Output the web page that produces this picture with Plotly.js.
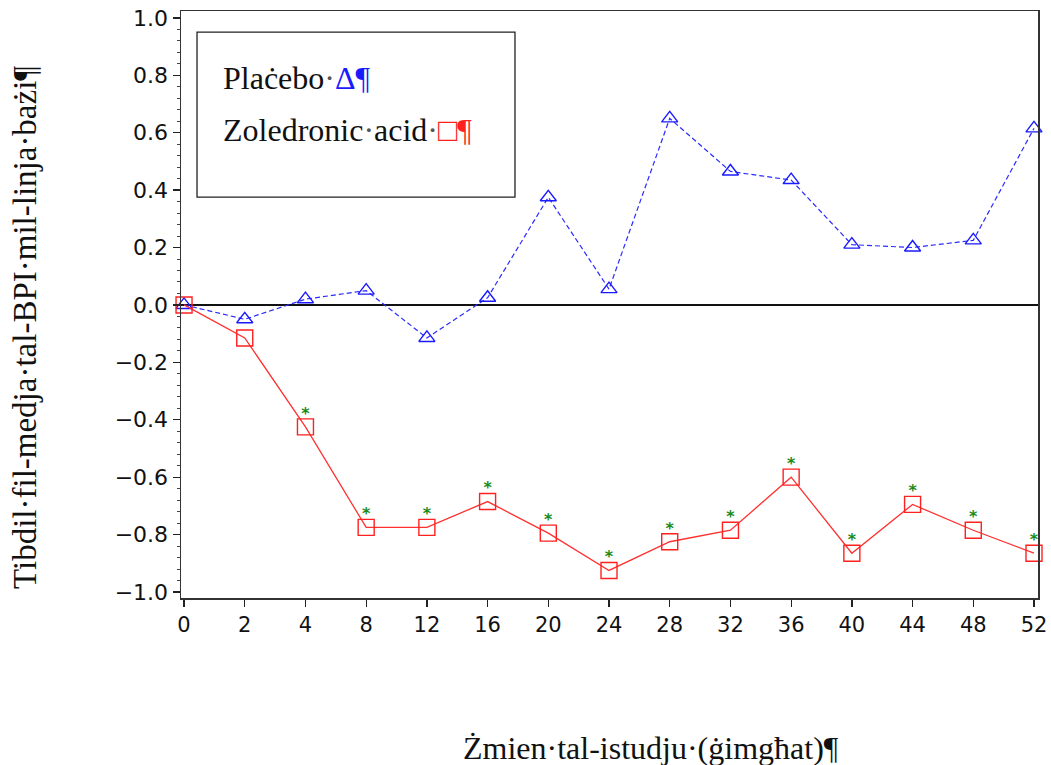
<!DOCTYPE html>
<html>
<head>
<meta charset="utf-8">
<script src="https://cdn.plot.ly/plotly-3.0.1.min.js"></script>
<style>html,body{margin:0;padding:0;background:#fff;}#chart{width:1051px;height:765px;}</style>
</head>
<body>
<div id="chart"></div>
<script>
var weeks = ['0','2','4','8','12','16','20','24','28','32','36','40','44','48','52'];
var placebo = [0, -0.05, 0.02, 0.05, -0.115, 0.025, 0.375, 0.055, 0.65, 0.465, 0.435, 0.21, 0.2, 0.225, 0.615];
var zoledronic = [0, -0.115, -0.425, -0.775, -0.775, -0.685, -0.795, -0.925, -0.825, -0.785, -0.6, -0.865, -0.695, -0.785, -0.865];
var significant = ['', '', '*', '*', '*', '*', '*', '*', '*', '*', '*', '*', '*', '*', '*'];
var yTicks = [-1.0, -0.8, -0.6, -0.4, -0.2, 0.0, 0.2, 0.4, 0.6, 0.8, 1.0];

var idx = weeks.map(function(w, i){ return i; });
var yTickText = yTicks.map(function(v){ return (v < 0 ? '\u2212' : '') + Math.abs(v).toFixed(1); });
var serif = "'Liberation Serif', 'Times New Roman', Times, serif";

var traces = [
  {
    x: idx, y: placebo, type: 'scatter', mode: 'lines+markers', name: 'Placebo',
    line: {color: '#2b2bff', width: 1.2, dash: '5px,3px'},
    marker: {symbol: 'triangle-up-open', size: 14, color: '#1a1aff', line: {width: 1.4, color: '#1a1aff'}},
    cliponaxis: false
  },
  {
    x: idx, y: zoledronic, type: 'scatter', mode: 'lines+markers', name: 'Zoledronic acid',
    line: {color: '#ff3030', width: 1.3},
    marker: {symbol: 'square-open', size: 16, color: '#ff2020', line: {width: 1.4, color: '#ff2020'}},
    cliponaxis: false
  },
  {
    x: idx, y: zoledronic, type: 'scatter', mode: 'markers+text', name: 'p<0.05',
    text: significant, textposition: 'top center',
    marker: {size: 5, color: 'rgba(0,0,0,0)', line: {width: 0}},
    textfont: {family: 'DejaVu Sans', size: 16, color: '#1a8a1a', weight: 'bold'},
    cliponaxis: false, hoverinfo: 'skip'
  }
];

var layout = {
  width: 1051, height: 765,
  margin: {l: 181, r: 13, t: 11, b: 167},
  paper_bgcolor: '#fff', plot_bgcolor: '#fff',
  showlegend: false,
  xaxis: {
    range: [-0.05, 14.066],
    tickmode: 'array', tickvals: idx, ticktext: weeks,
    ticks: 'outside', ticklen: 7, tickwidth: 1.3, tickcolor: '#222',
    showgrid: false, zeroline: false,
    showline: true, linecolor: '#333', linewidth: 1.5, mirror: true,
    tickfont: {family: 'DejaVu Sans', size: 21, color: '#111'}
  },
  yaxis: {
    range: [-1.021, 1.024],
    tickmode: 'array', tickvals: yTicks, ticktext: yTickText,
    ticks: 'outside', ticklen: 7, tickwidth: 1.3, tickcolor: '#222',
    minor: {dtick: 0.04, tick0: 0, ticks: 'outside', ticklen: 3, tickwidth: 1, tickcolor: '#444'},
    showgrid: false,
    zeroline: true, zerolinecolor: '#111', zerolinewidth: 1.3,
    showline: true, linecolor: '#333', linewidth: 1.5, mirror: true,
    tickfont: {family: 'DejaVu Sans', size: 22, color: '#111'}
  },
  shapes: [
    {type: 'rect', xref: 'paper', yref: 'paper', x0: 0.0187, x1: 0.3897, y0: 0.683, y1: 0.964,
     line: {color: '#222', width: 1.3}, fillcolor: 'rgba(0,0,0,0)'}
  ],
  annotations: [
    {xref: 'paper', yref: 'paper', x: 0.047, y: 0.886, xanchor: 'left', yanchor: 'middle', showarrow: false,
     text: 'Plaċebo<span style="color:#555">·</span><span style="color:#1a1aff">Δ¶</span>',
     font: {family: serif, size: 32, color: '#111'}},
    {xref: 'paper', yref: 'paper', x: 0.047, y: 0.797, xanchor: 'left', yanchor: 'middle', showarrow: false,
     text: 'Zoledronic<span style="color:#555">·</span>acid<span style="color:#555">·</span><span style="color:#ff2020">□¶</span>',
     font: {family: serif, size: 32, color: '#111'}},
    {xref: 'paper', yref: 'paper', x: -0.182, y: 0.46, xanchor: 'center', yanchor: 'middle', showarrow: false,
     textangle: -90,
     text: 'Tibdil·fil-medja·tal-BPI·mil-linja·bażi¶',
     font: {family: serif, size: 33, color: '#111'}},
    {xref: 'paper', yref: 'paper', x: 0.548, y: -0.2555, xanchor: 'center', yanchor: 'middle', showarrow: false,
     text: 'Żmien·tal-istudju·(ġimgħat)¶',
     font: {family: serif, size: 32, color: '#111'}}
  ]
};

Plotly.newPlot('chart', traces, layout, {displayModeBar: false, staticPlot: true});
</script>
</body>
</html>
